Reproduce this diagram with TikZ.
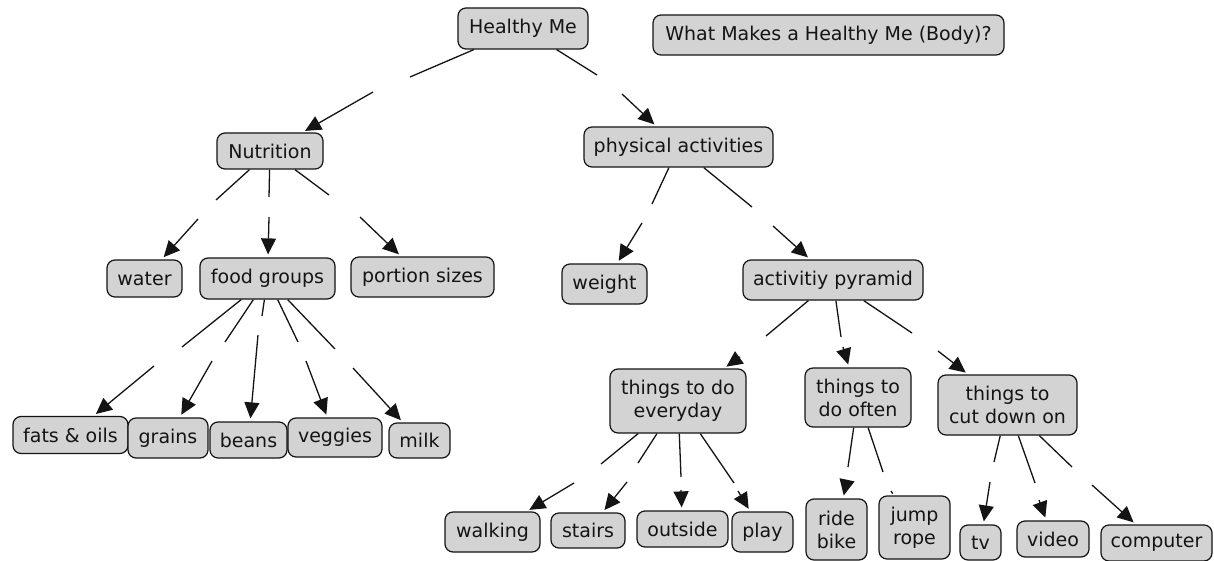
\documentclass[tikz,border=0pt]{standalone}
\usepackage{fontspec}
\setmainfont{DejaVu Sans}
\usetikzlibrary{arrows.meta}
\definecolor{boxfill}{RGB}{211,211,211}
\definecolor{ink}{RGB}{20,20,20}
\begin{document}
\begin{tikzpicture}[x=1pt,y=-1pt,
  concept/.style={draw=ink, fill=boxfill, line width=1.2pt, rounded corners=8pt,
    inner sep=0pt, align=center, text=ink,
    font=\fontsize{19}{23}\selectfont},
  link/.style={draw=ink, line width=1.3pt},
  linkarrow/.style={link, -{Triangle[length=16pt,width=15pt]}, shorten >=3pt}
]
\useasboundingbox (0,0) rectangle (1214,561);
\fill[white] (0,0) rectangle (1214,561);

% concepts
\node[concept, minimum width=130pt, minimum height=41pt] (hm) at (523,28.5) {Healthy Me};
\node[concept, minimum width=351pt, minimum height=40pt] (q) at (828.5,35) {What Makes a Healthy Me (Body)?};
\node[concept, minimum width=106pt, minimum height=36pt] (nut) at (270,151) {Nutrition};
\node[concept, minimum width=189pt, minimum height=40pt] (pa) at (678.5,147) {physical activities};
\node[concept, minimum width=75pt, minimum height=37pt] (water) at (144.5,278.5) {water};
\node[concept, minimum width=135pt, minimum height=41pt] (fg) at (267.5,278.5) {food groups};
\node[concept, minimum width=143pt, minimum height=40pt] (ps) at (422.5,277) {portion sizes};
\node[concept, minimum width=85pt, minimum height=40pt] (weight) at (604.5,284) {weight};
\node[concept, minimum width=180pt, minimum height=40pt] (ap) at (833,280) {activitiy pyramid};
\node[concept, minimum width=115pt, minimum height=37pt] (fats) at (70.5,435) {fats \& oils};
\node[concept, minimum width=80pt, minimum height=40pt] (grains) at (168,438) {grains};
\node[concept, minimum width=77pt, minimum height=36pt] (beans) at (248.5,440) {beans};
\node[concept, minimum width=94pt, minimum height=39pt] (veggies) at (335,437.5) {veggies};
\node[concept, minimum width=61pt, minimum height=35pt] (milk) at (419.5,440.5) {milk};
\node[concept, minimum width=136pt, minimum height=64pt] (ev) at (678,401) {things to do\\everyday};
\node[concept, minimum width=106pt, minimum height=59pt] (often) at (858,397.5) {things to\\do often};
\node[concept, minimum width=139pt, minimum height=60pt] (cut) at (1007.5,405) {things to\\cut down on};
\node[concept, minimum width=95pt, minimum height=40pt] (walking) at (492.5,532) {walking};
\node[concept, minimum width=74pt, minimum height=35pt] (stairs) at (588,530.5) {stairs};
\node[concept, minimum width=91pt, minimum height=36pt] (outside) at (682.5,529) {outside};
\node[concept, minimum width=61pt, minimum height=40pt] (play) at (762.5,532) {play};
\node[concept, minimum width=61pt, minimum height=61pt] (ride) at (836.5,529.5) {ride\\bike};
\node[concept, minimum width=71pt, minimum height=63pt] (jump) at (914.5,527.5) {jump\\rope};
\node[concept, minimum width=41pt, minimum height=35pt] (tv) at (980.5,542.5) {tv};
\node[concept, minimum width=72pt, minimum height=36pt] (video) at (1053,539) {video};
\node[concept, minimum width=111pt, minimum height=36pt] (computer) at (1156.5,543) {computer};

% gap end points (empty linking phrases)
\coordinate (a1) at (410,77);   \coordinate (b1) at (373,92);
\coordinate (a2) at (597,75);   \coordinate (b2) at (622,94);
\coordinate (a3) at (216,200);  \coordinate (b3) at (198,219);
\coordinate (a4) at (269,197);  \coordinate (b4) at (269,217);
\coordinate (a5) at (329,195);  \coordinate (b5) at (360,217);
\coordinate (a6) at (652,204);  \coordinate (b6) at (642,223);
\coordinate (a7) at (752,207);  \coordinate (b7) at (773,226);
\coordinate (a8) at (182,347);  \coordinate (b8) at (154,366);
\coordinate (a9) at (225,342);  \coordinate (b9) at (212,361);
\coordinate (a10) at (262,316); \coordinate (b10) at (258,335);
\coordinate (a11) at (298,342); \coordinate (b11) at (306,361);
\coordinate (a12) at (335,349); \coordinate (b12) at (353,368);
\coordinate (a13) at (766,336); \coordinate (b13) at (740,357);
\coordinate (a14) at (841,337); \coordinate (b14) at (843,347);
\coordinate (a15) at (912,333); \coordinate (b15) at (938,351);
\coordinate (a16) at (601,464); \coordinate (b16) at (574,483);
\coordinate (a17) at (638,463); \coordinate (b17) at (627,482);
\coordinate (a18) at (681,477); \coordinate (b18) at (681,490);
\coordinate (a19) at (734,483); \coordinate (b19) at (738,491);
\coordinate (a20) at (848,467); \coordinate (b20) at (847,480);
\coordinate (a21) at (883,472); \coordinate (b21) at (891,491);
\coordinate (a22) at (994,462); \coordinate (b22) at (990,482);
\coordinate (a23) at (1035,483); \coordinate (b23) at (1039,500);
\coordinate (a24) at (1072,467); \coordinate (b24) at (1092,485);

% connectors
\draw[link] (hm) -- (a1);  \draw[linkarrow] (b1) -- (nut);
\draw[link] (hm) -- (a2);  \draw[linkarrow] (b2) -- (pa);
\draw[link] (nut) -- (a3); \draw[linkarrow] (b3) -- (water);
\draw[link] (nut) -- (a4); \draw[linkarrow] (b4) -- (fg);
\draw[link] (nut) -- (a5); \draw[linkarrow] (b5) -- (ps);
\draw[link] (pa) -- (a6);  \draw[linkarrow] (b6) -- (weight);
\draw[link] (pa) -- (a7);  \draw[linkarrow] (b7) -- (ap);
\draw[link] (fg) -- (a8);  \draw[linkarrow] (b8) -- (fats);
\draw[link] (fg) -- (a9);  \draw[linkarrow] (b9) -- (grains);
\draw[link] (fg) -- (a10); \draw[linkarrow] (b10) -- (beans);
\draw[link] (fg) -- (a11); \draw[linkarrow] (b11) -- (veggies);
\draw[link] (fg) -- (a12); \draw[linkarrow] (b12) -- (milk);
\draw[link] (ap) -- (a13); \draw[linkarrow] (b13) -- (ev);
\draw[link] (ap) -- (a14); \draw[linkarrow] (b14) -- (often);
\draw[link] (ap) -- (a15); \draw[linkarrow] (b15) -- (cut);
\draw[link] (ev) -- (a16); \draw[linkarrow] (b16) -- (walking);
\draw[link] (ev) -- (a17); \draw[linkarrow] (b17) -- (stairs);
\draw[link] (ev) -- (a18); \draw[linkarrow] (b18) -- (outside);
\draw[link] (ev) -- (a19); \draw[linkarrow] (b19) -- (play);
\draw[link] (often) -- (a20); \draw[linkarrow] (b20) -- (ride);
\draw[link] (often) -- (a21); \draw[link, shorten >=2pt] (b21) -- (jump);
\draw[link] (cut) -- (a22); \draw[linkarrow] (b22) -- (tv);
\draw[link] (cut) -- (a23); \draw[linkarrow] (b23) -- (video);
\draw[link] (cut) -- (a24); \draw[linkarrow] (b24) -- (computer);
\end{tikzpicture}
\end{document}
